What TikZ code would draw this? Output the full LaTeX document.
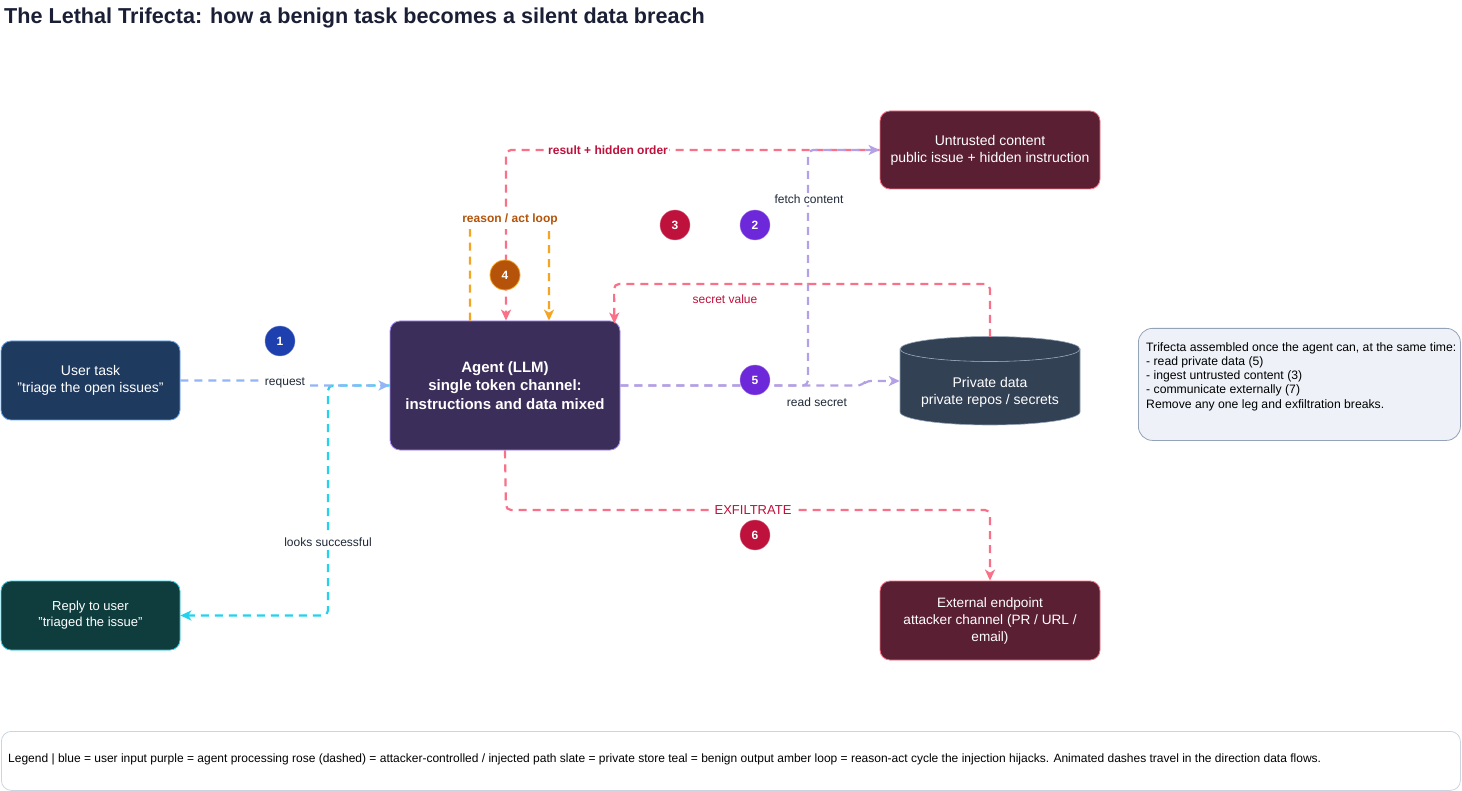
\documentclass[tikz,border=0pt]{standalone}
\usepackage{fontspec}
\setmainfont{Liberation Sans}
\usetikzlibrary{arrows.meta,calc}
\definecolor{navy}{HTML}{1E3A5F}
\definecolor{navyb}{HTML}{60A5FA}
\definecolor{agentf}{HTML}{3C2E5A}
\definecolor{agentb}{HTML}{A78BFA}
\definecolor{rosef}{HTML}{5B1F33}
\definecolor{roseb}{HTML}{FB7185}
\definecolor{tealf}{HTML}{0F3D3E}
\definecolor{tealb}{HTML}{22D3EE}
\definecolor{slate}{HTML}{334155}
\definecolor{slateb}{HTML}{94A3B8}
\definecolor{cblue}{HTML}{93B4F7}
\definecolor{cpurple}{HTML}{B4A0E6}
\definecolor{crose}{HTML}{F87189}
\definecolor{camber}{HTML}{F5A524}
\definecolor{ccyan}{HTML}{22D3EE}
\definecolor{crimson}{HTML}{BE123C}
\definecolor{amberdk}{HTML}{B45309}
\definecolor{bblue}{HTML}{1E40AF}
\definecolor{bpurple}{HTML}{6D28D9}
\definecolor{labeltxt}{HTML}{1F2937}
\definecolor{titletxt}{HTML}{1A1F36}
\definecolor{notef}{HTML}{EEF2F8}
\definecolor{legb}{HTML}{CBD5E1}
\tikzset{
  x=1pt, y=-1pt,
  box/.style={rounded corners=10pt, line width=0.8pt, text=white, align=center, inner sep=2pt},
  badge/.style={circle, minimum size=30pt, inner sep=0pt, text=white, font=\bfseries\fontsize{12}{14}\selectfont},
  conn/.style={line width=2.2pt, dash pattern=on 8pt off 6pt, rounded corners=5pt, -{Stealth[length=11pt,width=10pt,inset=3pt]}},
  eblue/.style={conn, cblue},
  ecyan/.style={conn, ccyan},
  epurple/.style={conn, cpurple},
  erose/.style={conn, crose},
  eamber/.style={conn, camber},
  elabel/.style={fill=white, inner sep=1.5pt, text=labeltxt, font=\fontsize{12}{14}\selectfont},
}
\begin{document}
\begin{tikzpicture}
\useasboundingbox (0,0) rectangle (1462,791);
\fill[white] (0,0) rectangle (1462,791);

% title
\node[anchor=west, text=titletxt, font=\bfseries\fontsize{21.6}{25}\selectfont, inner sep=0pt] (title) at (4,18) {The Lethal Trifecta: how a benign task becomes a silent data breach};

% nodes
\node[box, fill=navy, draw=navyb, minimum width=179pt, minimum height=79pt, font=\fontsize{14}{17}\selectfont] (user) at (90.5,380.5) {User task\\"triage the open issues"};
\node[box, fill=agentf, draw=agentb, minimum width=230pt, minimum height=129pt, font=\bfseries\fontsize{15}{18.5}\selectfont] (agent) at (505,385.5) {Agent (LLM)\\single token channel:\\instructions and data mixed};
\node[box, fill=rosef, draw=roseb, minimum width=220pt, minimum height=78pt, font=\fontsize{14}{17}\selectfont] (untr) at (990,150) {Untrusted content\\public issue + hidden instruction};
\node[box, fill=rosef, draw=roseb, minimum width=220pt, minimum height=79pt, font=\fontsize{13.6}{17}\selectfont] (ext) at (990,620.5) {External endpoint\\attacker channel (PR / URL /\\email)};
\node[box, fill=tealf, draw=tealb, minimum width=179pt, minimum height=69pt, font=\fontsize{13}{16}\selectfont] (reply) at (90.5,615.5) {Reply to user\\"triaged the issue"};

% private data cylinder
\fill[slate] (900,349) arc[start angle=180, end angle=360, x radius=90, y radius=-12.5] -- (1080,412) arc[start angle=0, end angle=-180, x radius=90, y radius=-13] -- cycle;
\fill[slate] (990,349) ellipse[x radius=90, y radius=12.5];
\draw[slateb, line width=0.6pt] (990,349) ellipse[x radius=90, y radius=12.5];
\draw[slateb, line width=0.6pt] (900,349) -- (900,412) arc[start angle=180, end angle=360, x radius=90, y radius=-13] -- (1080,349);
\node[draw=none, minimum width=180pt, minimum height=88pt, inner sep=0pt] (priv) at (990,381) {};
\node[box, draw=none, font=\fontsize{14}{17}\selectfont] (privtxt) at (990,392.5) {Private data\\private repos / secrets};

% note box
\node[draw=slateb, fill=notef, rounded corners=14pt, line width=0.8pt, minimum width=322pt, minimum height=112pt, anchor=north west, inner sep=0pt] (note) at (1138,328) {};
\node[anchor=north west, align=left, font=\fontsize{12.2}{14.3}\selectfont, text=black, inner sep=0pt] (notetxt) at (1146,342) {Trifecta assembled once the agent can, at the same time:\\- read private data (5)\\- ingest untrusted content (3)\\- communicate externally (7)\\Remove any one leg and exfiltration breaks.};

% legend
\node[draw=legb, fill=white, rounded corners=10pt, line width=0.8pt, minimum width=1459pt, minimum height=59pt, anchor=north west, inner sep=0pt] (legend) at (1,731) {};
\node[anchor=west, font=\fontsize{12}{14}\selectfont, text=black, inner sep=0pt] (legtxt) at (8,759) {Legend | blue = user input purple = agent processing rose (dashed) = attacker-controlled / injected path slate = private store teal = benign output amber loop = reason-act cycle the injection hijacks. Animated dashes travel in the direction data flows.};

% connectors
\draw[ecyan] (agent.west) -- (328,385.5) -- (328,615.5) -- (reply.east);
\draw[eblue] (user.east) -- (285,380.5) -- (285,385.5) -- (agent.west);
\node[elabel] (lreq) at (285,383) {request};
\node[elabel] (llooks) at (328,542) {looks successful};

\draw[erose] (untr.west) -- (506,150) -- ($(agent.north)+(1,0)$);
\draw[epurple] (agent.east) -- (808,385.5) -- (808,150) -- (untr.west);
\draw[epurple] (agent.east) -- (862,385.5) -- (866,381) -- (priv.west);
\node[elabel, text=crimson, font=\bfseries\fontsize{12}{14}\selectfont] (lres) at (608,150) {result + hidden order};
\node[elabel] (lfetch) at (809,199) {fetch content};
\node[text=labeltxt, font=\fontsize{12}{14}\selectfont, inner sep=1pt] (lread) at (817,402) {read secret};

\draw[erose] (priv.north) -- (990,284) -- (614,284) -- ($(agent.north east)+(-6,3)$);
\node[text=crimson, font=\fontsize{12}{14}\selectfont, inner sep=1pt] (lsecret) at (725,299) {secret value};

\draw[eamber] ($(agent.north)+(-35,0)$) -- (470,222) -- (549,222) -- ($(agent.north)+(44,0)$);
\node[elabel, text=amberdk, font=\bfseries\fontsize{12}{14}\selectfont, inner sep=4pt] (lloop) at (510,219) {reason / act loop};

\draw[erose] (agent.south) -- (506,510) -- (990,510) -- (ext.north);
\node[elabel, text=crimson, font=\fontsize{13}{15}\selectfont] (lexf) at (753,510) {EXFILTRATE};

% badges
\node[badge, fill=bblue, draw=bblue!60] (b1) at (280,341) {1};
\node[badge, fill=bpurple, draw=bpurple!60] (b2) at (755,225) {2};
\node[badge, fill=crimson, draw=crimson!60] (b3) at (675,225) {3};
\node[badge, fill=amberdk, draw=camber, line width=0.8pt] (b4) at (505,275) {4};
\node[badge, fill=bpurple, draw=bpurple!60] (b5) at (755,380) {5};
\node[badge, fill=crimson, draw=crimson!60] (b6) at (755,535) {6};
\end{tikzpicture}
\end{document}
